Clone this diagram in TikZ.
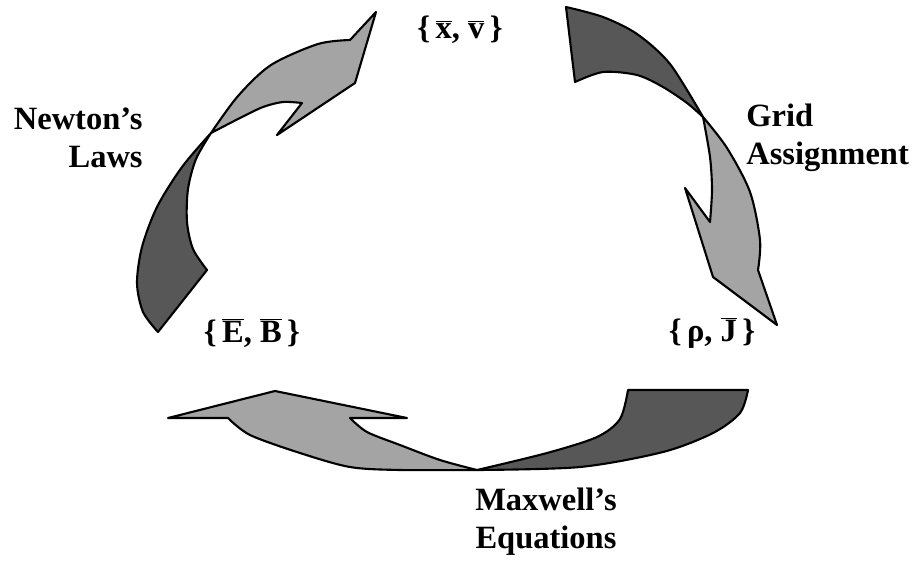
\documentclass[tikz,border=0pt]{standalone}
\usepackage{fontspec}
\setmainfont{Liberation Serif}
\definecolor{lightfill}{HTML}{A4A4A4}
\definecolor{darkfill}{HTML}{575757}
\newcommand{\ovb}[1]{\ensuremath{\overline{\mbox{#1}}}}
\tikzset{
  lightpart/.style={fill=lightfill, draw=black, line width=1.2pt, line join=round},
  darkpart/.style={fill=darkfill, draw=black, line width=1.2pt, line join=round},
  lbl/.style={font=\fontsize{18.5}{21.5}\selectfont\bfseries, align=center, inner sep=0pt}
}
\begin{document}
\begin{tikzpicture}[x=0.02cm, y=-0.02cm]
\useasboundingbox[fill=white] (0,0) rectangle (912,561);

% Arrow A (Newton's Laws)
\path[darkpart] plot[smooth] coordinates {(211,133) (182,167) (157,207) (142,247) (137,283) (143,312) (158,332)}
  -- (207,270) -- plot[smooth] coordinates {(207,270) (193,249) (187,222) (188,189) (196,159) (211,133)} -- cycle;
\path[lightpart] plot[smooth] coordinates {(211,133) (238,96) (271,65) (318,44) (350,40)}
  -- (376,12) -- (355,83) -- (277,135) -- (302,103)
  -- plot[smooth] coordinates {(302,103) (283,102) (263,107) (240,118) (211,133)} -- cycle;

% Arrow B (Grid Assignment)
\path[darkpart] (575,82) -- (566,7) -- plot[smooth] coordinates {(566,7) (603,17) (637,34) (670,64) (703,117)}
  -- plot[smooth] coordinates {(703,117) (687,103) (663,87) (637,75) (603,72) (575,82)} -- cycle;
\path[lightpart] plot[smooth] coordinates {(703,117) (727,148) (750,192) (760,240) (758,270)}
  -- (777,325) -- (713,277) -- (685,188) -- (710,222)
  -- plot[smooth] coordinates {(710,222) (712,190) (710,157) (703,117)} -- cycle;

% Arrow C (Maxwell's Equations)
\path[darkpart] plot[smooth] coordinates {(477,470) (547,453) (597,437) (620,419) (628,390)}
  -- (748,390) -- plot[smooth] coordinates {(748,390) (740,413) (713,433) (663,452) (580,467) (477,470)} -- cycle;
\path[lightpart] (168,418) -- (275,391) -- (407,418) -- (350,418)
  -- plot[smooth] coordinates {(350,418) (367,432) (400,445) (440,460) (477,470)}
  -- plot[smooth] coordinates {(477,470) (400,470) (350,467) (300,453) (250,435) (228,418)} -- cycle;

% Labels
\node[lbl, align=right, anchor=east] (newton) at (143,138) {Newton’s\\Laws};
\node[lbl, align=left, anchor=west] (grid) at (746,138) {Grid\\Assignment};
\node[lbl] (maxwell) at (546,522) {Maxwell’s\\Equations};
\node[lbl] (xv) at (460,30) {\{\,\ovb{x}, \ovb{v}\,\}};
\node[lbl] (eb) at (252,333) {\{\,\ovb{E}, \ovb{B}\,\}};
\node[lbl] (rj) at (712,333) {\{\,ρ, \ovb{J}\,\}};
\end{tikzpicture}
\end{document}
